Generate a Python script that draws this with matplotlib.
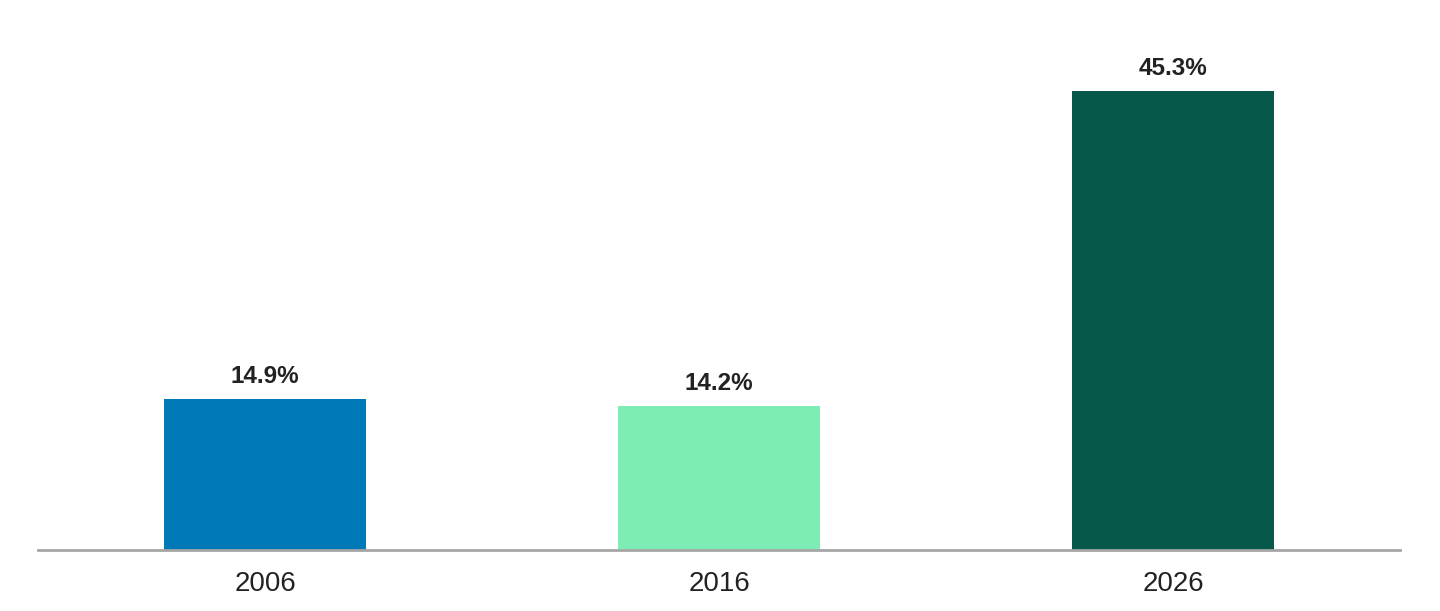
import matplotlib.pyplot as plt

# Data
years = ['2006', '2016', '2026']
shares = [14.9, 14.2, 45.3]  # [%]
colors = ['#0079B9', '#7DEDB5', '#06594A']

plt.rcParams['font.family'] = ['Liberation Sans', 'DejaVu Sans']

fig = plt.figure(figsize=(14.4, 6.11), dpi=100)
ax = fig.add_axes([38 / 1440, 61 / 611, 1362 / 1440, 506.5 / 611])

x = range(len(years))
bars = ax.bar(x, shares, width=0.443, color=colors)

for bar, value in zip(bars, shares):
    ax.annotate(f'{value}%', (bar.get_x() + bar.get_width() / 2, bar.get_height()),
                xytext=(0, 8), textcoords='offset points',
                ha='center', va='bottom', fontsize=17.5, fontweight='bold', color='#222222')

ax.set_xlim(-0.5, 2.5)
ax.set_ylim(0, 50)
ax.set_xticks(list(x))
ax.set_xticklabels(years, fontsize=20, color='#222222')
ax.tick_params(axis='x', length=0, pad=15)
ax.set_yticks([])

for side in ['top', 'right', 'left']:
    ax.spines[side].set_visible(False)
ax.spines['bottom'].set_color('#A6A6A6')
ax.spines['bottom'].set_linewidth(2)

fig.savefig('out.png', dpi=100)
